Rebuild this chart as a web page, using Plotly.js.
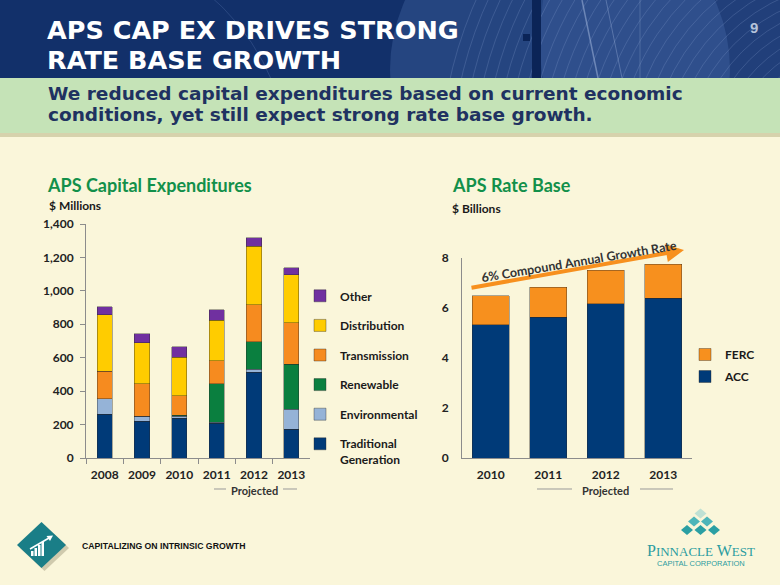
<!DOCTYPE html>
<html><head><meta charset="utf-8">
<script src="https://cdn.plot.ly/plotly-3.0.1.min.js"></script>
<style>html,body{margin:0;padding:0;background:#FAF6DA;} #chart{width:780px;height:585px;}</style>
</head><body><div id="chart"></div>
<script>
// ---------- DATA ----------
const capexYears = ['2008', '2009', '2010', '2011', '2012', '2013'];
const traditionalGeneration = [261, 219, 239, 209, 512, 173];
const environmental = [93, 32, 12, 6, 20, 120];
const renewable = [0, 0, 4, 229, 163, 269];
const transmission = [164, 193, 117, 137, 221, 246];
const distribution = [340, 247, 231, 243, 350, 287];
const otherCapex = [46, 52, 64, 62, 52, 44];
const capexTicks = [0, 200, 400, 600, 800, 1000, 1200, 1400];

const rateBaseYears = ['2010', '2011', '2012', '2013'];
const accRateBase = [5.33, 5.63, 6.17, 6.39];
const fercRateBase = [1.16, 1.20, 1.35, 1.37];
const rateBaseTicks = [0, 2, 4, 6, 8];

// ---------- HELPERS ----------
const W = 780, H = 585;
const px = x => x / W, py = y => 1 - y / H;
const CHART_FONT = 'Lato, "Open Sans", sans-serif';
const HEAD_FONT = '"DejaVu Sans", sans-serif';
function rectShape(x0, y0, x1, y1, fill, extra) {
  return Object.assign({type: 'rect', xref: 'paper', yref: 'paper', x0: px(x0), x1: px(x1), y0: py(y1), y1: py(y0),
    fillcolor: fill, line: {width: 0}, layer: 'below'}, extra || {});
}
function polyShape(pts, fill, extra) {
  return Object.assign({type: 'path', xref: 'paper', yref: 'paper',
    path: 'M' + pts.map(p => px(p[0]).toFixed(5) + ',' + py(p[1]).toFixed(5)).join(' L') + ' Z',
    fillcolor: fill, line: {width: 0}, layer: 'below'}, extra || {});
}
function lineShape(x0, y0, x1, y1, color, width, layer) {
  return {type: 'line', xref: 'paper', yref: 'paper', x0: px(x0), x1: px(x1), y0: py(y0), y1: py(y1),
    line: {color: color, width: width}, layer: layer || 'below'};
}
function circleShape(cx, cy, r, fill, lineColor, lw) {
  return {type: 'circle', xref: 'paper', yref: 'paper', x0: px(cx - r), x1: px(cx + r), y0: py(cy + r), y1: py(cy - r),
    fillcolor: fill || 'rgba(0,0,0,0)', line: {color: lineColor || 'rgba(0,0,0,0)', width: lw || 0}, layer: 'below'};
}
function diamond(cx, cy, hw, hh) { return [[cx - hw, cy], [cx, cy - hh], [cx + hw, cy], [cx, cy + hh]]; }
function label(text, x, y, font, extra) {
  return Object.assign({text: text, xref: 'paper', yref: 'paper', x: px(x), y: py(y), showarrow: false,
    xanchor: 'left', yanchor: 'middle', font: font}, extra || {});
}

// ---------- TRACES ----------
const lineEdge = {color: 'rgba(40,40,40,0.55)', width: 0.7};
const capexSeries = [
  {name: 'Traditional<br>Generation', y: traditionalGeneration, color: '#003A78'},
  {name: 'Environmental', y: environmental, color: '#95B3D7'},
  {name: 'Renewable', y: renewable, color: '#0A7F3F'},
  {name: 'Transmission', y: transmission, color: '#F68B1F'},
  {name: 'Distribution', y: distribution, color: '#FFCC00'},
  {name: 'Other', y: otherCapex, color: '#7030A0'}
];
const traces = capexSeries.map((s, i) => ({
  type: 'bar', x: capexYears, y: s.y, name: s.name, xaxis: 'x', yaxis: 'y', width: 0.41,
  marker: {color: s.color, line: lineEdge}, legend: 'legend', legendgroup: 'c' + i,
  legendrank: capexSeries.length - i, hoverinfo: 'skip'
}));
traces.push({type: 'bar', x: rateBaseYears, y: accRateBase, name: 'ACC', xaxis: 'x2', yaxis: 'y2', width: 0.64,
  marker: {color: '#003A78', line: lineEdge}, legend: 'legend2', legendgroup: 'r0', legendrank: 2, hoverinfo: 'skip'});
traces.push({type: 'bar', x: rateBaseYears, y: fercRateBase, name: 'FERC', xaxis: 'x2', yaxis: 'y2', width: 0.64,
  marker: {color: '#F7901E', line: lineEdge}, legend: 'legend2', legendgroup: 'r1', legendrank: 1, hoverinfo: 'skip'});

// ---------- DECORATION ----------
const shapes = [
  rectShape(0, 0, 780, 78, '#12306A'),
  circleShape(560, 70, 170, 'rgba(75,110,170,0.35)'),
  circleShape(800, 40, 260, 'rgba(85,120,180,0.22)'),
  circleShape(60, 170, 230, null, 'rgba(110,140,195,0.25)', 1)
];
for (let r = 90; r <= 420; r += 11) shapes.push(circleShape(860, 170, r, null, 'rgba(150,175,220,0.22)', 1));
shapes.push(rectShape(532, 0, 541, 78, '#0B2457'));
shapes.push(rectShape(523, 34, 530, 41, '#0B2457'));
shapes.push(lineShape(582, 0, 598, 78, 'rgba(170,190,225,0.5)', 1.5));
shapes.push(lineShape(606, 0, 622, 78, 'rgba(170,190,225,0.35)', 1));
shapes.push(lineShape(640, 0, 640, 78, 'rgba(170,190,225,0.25)', 1));
shapes.push(rectShape(0, 78, 780, 133, '#C5E3B7'));
shapes.push(rectShape(0, 133, 780, 137, '#D6D2AC'));
shapes.push(rectShape(0, 137, 780, 585, '#FAF6DA'));
// "Projected" brackets
shapes.push(lineShape(214, 489, 226, 489, '#999999', 1, 'above'));
shapes.push(lineShape(283, 489, 297, 489, '#999999', 1, 'above'));
shapes.push(lineShape(537, 489, 572, 489, '#999999', 1, 'above'));
shapes.push(lineShape(640, 489, 673, 489, '#999999', 1, 'above'));
// bottom-left logo
shapes.push(polyShape(diamond(44.5, 548, 24.5, 23), 'rgba(80,70,40,0.25)'));
shapes.push(polyShape(diamond(41.5, 545, 24.5, 23), '#1A7E87'));
shapes.push(rectShape(31, 551, 33.5, 556, '#FFFFFF'));
shapes.push(rectShape(34.5, 548, 37, 556, '#FFFFFF'));
shapes.push(rectShape(38, 545, 40.5, 556, '#FFFFFF'));
shapes.push(rectShape(41.5, 542, 44, 556, '#FFFFFF'));
shapes.push(lineShape(30, 549, 49, 538, '#FFFFFF', 1.6));
shapes.push(polyShape([[53, 535.5], [46.5, 536], [50, 541]], '#FFFFFF'));
// Pinnacle West logo
shapes.push(polyShape(diamond(700.5, 513.5, 6, 5), 'rgba(120,200,205,0.45)'));
shapes.push(polyShape(diamond(694, 521.5, 6, 5), '#4DB5B9'));
shapes.push(polyShape(diamond(707, 521.5, 6, 5), '#4DB5B9'));
shapes.push(polyShape(diamond(687, 530, 6, 5), '#2A9FA3'));
shapes.push(polyShape(diamond(700.5, 530, 6, 5), '#2A9FA3'));
shapes.push(polyShape(diamond(714, 530, 6, 5), '#2A9FA3'));

const darkText = '#1A1A1A';
const big = t => '<span style="font-size:25.5px">' + t + '</span>';
const annotations = [
  label(big('APS CAP EX DRIVES STRONG') + '<br>' + big('RATE BASE GROWTH'), 45, 45,
        {family: HEAD_FONT, size: 22.9, color: '#FFFFFF', weight: 700}, {align: 'left'}),
  label('9', 754, 27, {family: '"Liberation Sans", Arial, sans-serif', size: 15, color: '#B5C3DA', weight: 700}, {xanchor: 'center'}),
  label('We reduced capital expenditures based on current economic', 46, 94, {family: HEAD_FONT, size: 18.5, color: '#1F3261', weight: 700}),
  label('conditions, yet still expect strong rate base growth.', 46, 115, {family: HEAD_FONT, size: 18.5, color: '#1F3261', weight: 700}),
  label('APS Capital Expenditures', 45, 185, {family: CHART_FONT, size: 18, color: '#12904A', weight: 700}),
  label('$ Millions', 47, 205.5, {family: CHART_FONT, size: 12, color: darkText, weight: 700}),
  label('APS Rate Base', 450, 185, {family: CHART_FONT, size: 18, color: '#12904A', weight: 700}),
  label('$ Billions', 450, 208.5, {family: CHART_FONT, size: 12, color: darkText, weight: 700}),
  label('Projected', 254.5, 490, {family: CHART_FONT, size: 11, color: '#333333', weight: 700}, {xanchor: 'center'}),
  label('Projected', 605.5, 490, {family: CHART_FONT, size: 11, color: '#333333', weight: 700}, {xanchor: 'center'}),
  // growth arrow
  {xref: 'paper', yref: 'paper', x: px(684), y: py(250), ax: 470 - 684, ay: 288 - 250, text: '', showarrow: true,
   arrowhead: 2, arrowsize: 0.9, arrowwidth: 4, arrowcolor: '#F7901E'},
  label('6% Compound Annual Growth Rate', 579, 261, {family: CHART_FONT, size: 12.5, color: '#333333', weight: 700}, {xanchor: 'center', textangle: -9.5}),
  label('CAPITALIZING ON INTRINSIC GROWTH', 80, 546, {family: '"Liberation Sans", Arial, sans-serif', size: 8.7, color: '#111111', weight: 700}),
  label('P<span style="font-size:13px">INNACLE</span> W<span style="font-size:13px">EST</span>', 701, 550,
        {family: '"Liberation Serif", serif', size: 16, color: '#2A9CA0'}, {xanchor: 'center'}),
  label('CAPITAL CORPORATION', 701, 563, {family: '"Liberation Sans", Arial, sans-serif', size: 7.5, color: '#2A9CA0'}, {xanchor: 'center'})
];

const tickFont = {family: CHART_FONT, size: 12, color: '#222222', weight: 700};
const axisLine = '#8C8C8C';
const layout = {
  width: W, height: H, margin: {l: 0, r: 0, t: 0, b: 0},
  paper_bgcolor: '#FAF6DA', plot_bgcolor: 'rgba(0,0,0,0)',
  barmode: 'stack', showlegend: true,
  xaxis: {domain: [px(86), px(310)], anchor: 'y', type: 'category', range: [-0.5, 5.5], showline: true, linecolor: axisLine,
    ticks: 'outside', tickson: 'boundaries', ticklen: 5, tickcolor: axisLine, showgrid: false, tickfont: tickFont,
    ticklabelstandoff: 6, fixedrange: true},
  yaxis: {domain: [py(458), py(224)], anchor: 'x', range: [0, 1400], tickvals: capexTicks, tickformat: ',d', showline: true,
    linecolor: axisLine, ticks: 'outside', ticklen: 5, tickcolor: axisLine, showgrid: false, zeroline: false,
    tickfont: tickFont, ticklabelstandoff: 4, fixedrange: true},
  xaxis2: {domain: [px(462), px(692)], anchor: 'y2', type: 'category', range: [-0.5, 3.5], showline: true, linecolor: axisLine,
    ticks: '', showgrid: false, tickfont: tickFont, ticklabelstandoff: 6, fixedrange: true},
  yaxis2: {domain: [py(458), py(258)], anchor: 'x2', range: [0, 8], tickvals: rateBaseTicks, showline: true,
    linecolor: axisLine, ticks: '', showgrid: false, zeroline: false, tickfont: tickFont, ticklabelstandoff: 10, fixedrange: true},
  legend: {x: px(300), y: py(281.5), xanchor: 'left', yanchor: 'top', bgcolor: 'rgba(0,0,0,0)', borderwidth: 0,
    font: {family: CHART_FONT, size: 12, color: darkText, weight: 700}, tracegroupgap: 10.6,
    traceorder: 'grouped', valign: 'top'},
  legend2: {x: px(685), y: py(340), xanchor: 'left', yanchor: 'top', bgcolor: 'rgba(0,0,0,0)', borderwidth: 0,
    font: {family: CHART_FONT, size: 12, color: darkText, weight: 700}, tracegroupgap: 3,
    traceorder: 'grouped'},
  shapes: shapes, annotations: annotations
};
Plotly.newPlot('chart', traces, layout, {staticPlot: true, displayModeBar: false});
</script></body></html>
